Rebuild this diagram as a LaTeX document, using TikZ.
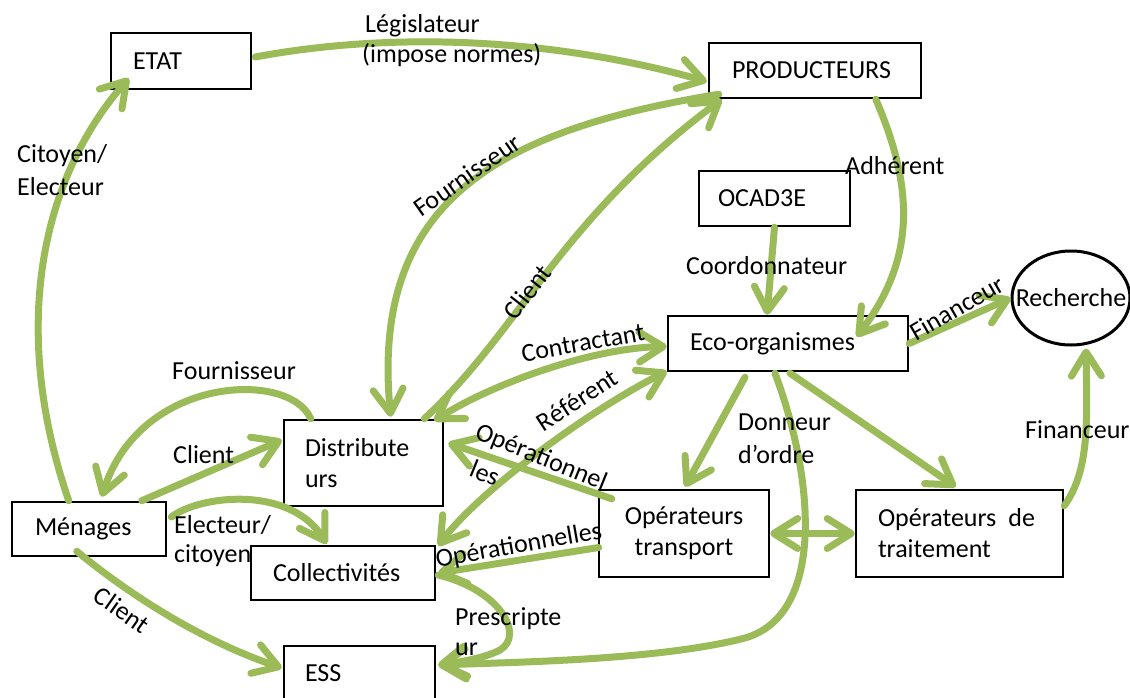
\documentclass[tikz,border=0pt]{standalone}
\usepackage{fontspec}
\setmainfont{Carlito}
\usetikzlibrary{arrows.meta,calc,shapes.geometric}
\definecolor{ogreen}{RGB}{155,187,89}
\begin{document}
\begin{tikzpicture}[x=1pt,y=-1pt,
  >={Straight Barb[length=24pt,width=30pt,round]},
  txt/.style={font=\fontsize{26}{31}\selectfont},
  box/.style={draw=black, line width=2.5pt, fill=white, rectangle, inner ysep=0pt, txt, align=left},
  conn/.style={draw=ogreen, line width=7pt, line cap=round, line join=round, ->},
  dconn/.style={conn, <->},
  lbl/.style={txt, inner sep=0pt, anchor=base west},
  rlbl/.style={txt, inner sep=0pt, anchor=center}]
\useasboundingbox (0,0) rectangle (1130,698);
\clip (0,0) rectangle (1130,698);
% boxes
\node[box, text width=96pt,  inner xsep=22pt, minimum height=56pt] (etat) at (181,61) {ETAT};
\node[box, text width=166pt, inner xsep=23pt, minimum height=55pt] (prod) at (815,70.5) {PRODUCTEURS};
\node[box, text width=113pt, inner xsep=19pt, minimum height=55pt] (ocad) at (774.5,198.5) {OCAD3E};
\node[box, text width=196pt, inner xsep=22pt, minimum height=55pt] (eco) at (788,343.5) {Eco-organismes};
\node[box, text width=117pt, inner xsep=21pt, minimum height=86pt] (dist) at (363.5,463) {Distribute\\urs};
\node[box, text width=108pt, inner xsep=23pt, minimum height=54pt] (men) at (89,529) {Ménages};
\node[box, text width=140pt, inner xsep=22pt, minimum height=54pt] (coll) at (343,573) {Collectivités};
\node[box, text width=109pt, inner xsep=21pt, minimum height=54pt] (ess) at (359.5,673) {ESS};
\node[box, text width=150pt, inner xsep=10pt, minimum height=87pt, align=center] (opt) at (684,533.5) {Opérateurs\\transport};
\node[box, text width=163pt, inner xsep=22pt, minimum height=87pt] (optr) at (959.5,533.5) {Opérateurs\hspace{12pt}de\\traitement};
\node[draw=black, line width=3pt, fill=white, ellipse, inner sep=0pt, minimum width=118pt, minimum height=94pt, txt] (rech) at (1071,298) {\makebox[0pt]{Recherche}};
% connectors
\draw[conn] ($(etat.east)+(3,-4)$) .. controls (400,30) and (560,40) .. ($(prod.west)+(-1,11)$);
\draw[conn] ($(men.north west)+(58,0)$) .. controls (10,330) and (40,180) .. ($(etat.south west)+(19,-12)$);
\draw[conn] ($(prod.south west)+(168,0)$) .. controls (915,190) and (915,260) .. ($(eco.north west)+(190,22)$);
\draw[conn] (ocad.south) -- ($(eco.north)+(-21,0)$);
\draw[conn] (eco.east) -- (rech.west);
\draw[conn] ($(optr.north east)+(0,17)$) .. controls (1090,470) and (1087,420) .. ($(rech.south)+(15,2)$);
\draw[conn] ($(eco.south)+(2,1)$) -- ($(optr.north west)+(101,-2)$);
\draw[conn] ($(eco.south)+(-43,5)$) -- ($(opt.north)+(1,-2)$);
\draw[conn] ($(eco.south)+(-13,1)$) .. controls (815,480) and (825,615) .. (745,638) .. controls (660,660) and (520,662) .. ($(ess.east)+(2,-8)$);
\draw[dconn] ($(dist.north east)+(-10,2)$) .. controls (490,385) and (590,348) .. ($(eco.west)+(0,3)$);
\draw[dconn] ($(eco.south west)+(0,-1)$) .. controls (590,410) and (480,490) .. ($(coll.north east)+(2,1)$);
\draw[conn] ($(dist.north east)+(-20,0)$) .. controls (520,330) and (560,220) .. ($(prod.south west)+(14,0)$);
\draw[conn] ($(prod.south west)+(11,-5)$) .. controls (500,130) and (370,200) .. ($(dist.north west)+(108,-2)$);
\draw[conn] ($(opt.north west)+(14,10)$) -- ($(dist.east)+(4,-20)$);
\draw[conn] ($(opt.west)+(1,14)$) -- ($(coll.east)+(2,0)$);
\draw[dconn] (opt.east) -- (optr.west);
\draw[conn] ($(coll.east)+(2,2)$) .. controls (500,590) and (525,635) .. (500,650) .. controls (485,658) and (460,662) .. ($(ess.east)+(2,-8)$);
\draw[conn] ($(men.north west)+(131,0)$) -- ($(dist.west)+(-1,-23)$);
\draw[conn] ($(dist.north west)+(28,0)$) .. controls (290,370) and (140,375) .. ($(men.north west)+(91,-4)$);
\draw[conn] ($(men.east)+(4,-12)$) .. controls (200,495) and (290,485) .. ($(coll.north west)+(77,-1)$);
\draw[conn] ($(men.south west)+(66,-6)$) .. controls (130,595) and (200,640) .. ($(ess.west)+(-1,-5)$);
% labels
\node[lbl] (l1a) at (365,33) {Législateur};
\node[lbl] (l1b) at (362,63) {(impose normes)};
\node[lbl] (l2a) at (17,163) {Citoyen/};
\node[lbl] (l2b) at (17,195) {Electeur};
\node[lbl] (l3) at (845,175) {Adhérent};
\node[lbl] (l4) at (686,274) {Coordonnateur};
\node[rlbl, rotate=30] (l5) at (957,308) {Financeur};
\node[lbl] (l6) at (1025,438) {Financeur};
\node[lbl] (l7a) at (738,430) {Donneur};
\node[lbl] (l7b) at (738,463) {d’ordre};
\node[rlbl, rotate=35] (l8) at (467,175) {Fournisseur};
\node[rlbl, rotate=52] (l9) at (527,292) {Client};
\node[rlbl, rotate=10] (l10) at (583,343) {Contractant};
\node[rlbl, rotate=33] (l11) at (577,400) {Référent};
\node[rlbl, rotate=-22] (l12a) at (541,458) {Opérationnel};
\node[rlbl, rotate=-22] (l12b) at (485,473) {les};
\node[rlbl, rotate=10] (l13) at (519,546) {Opérationnelles};
\node[lbl] (l14a) at (455,625) {Prescripte};
\node[lbl] (l14b) at (455,655) {ur};
\node[lbl] (l15) at (172,379) {Fournisseur};
\node[lbl] (l16) at (173,463) {Client};
\node[lbl] (l17a) at (174,533) {Electeur/};
\node[lbl] (l17b) at (174,562) {citoyen};
\node[rlbl, rotate=-35] (l18) at (122,610) {Client};
\end{tikzpicture}
\end{document}
